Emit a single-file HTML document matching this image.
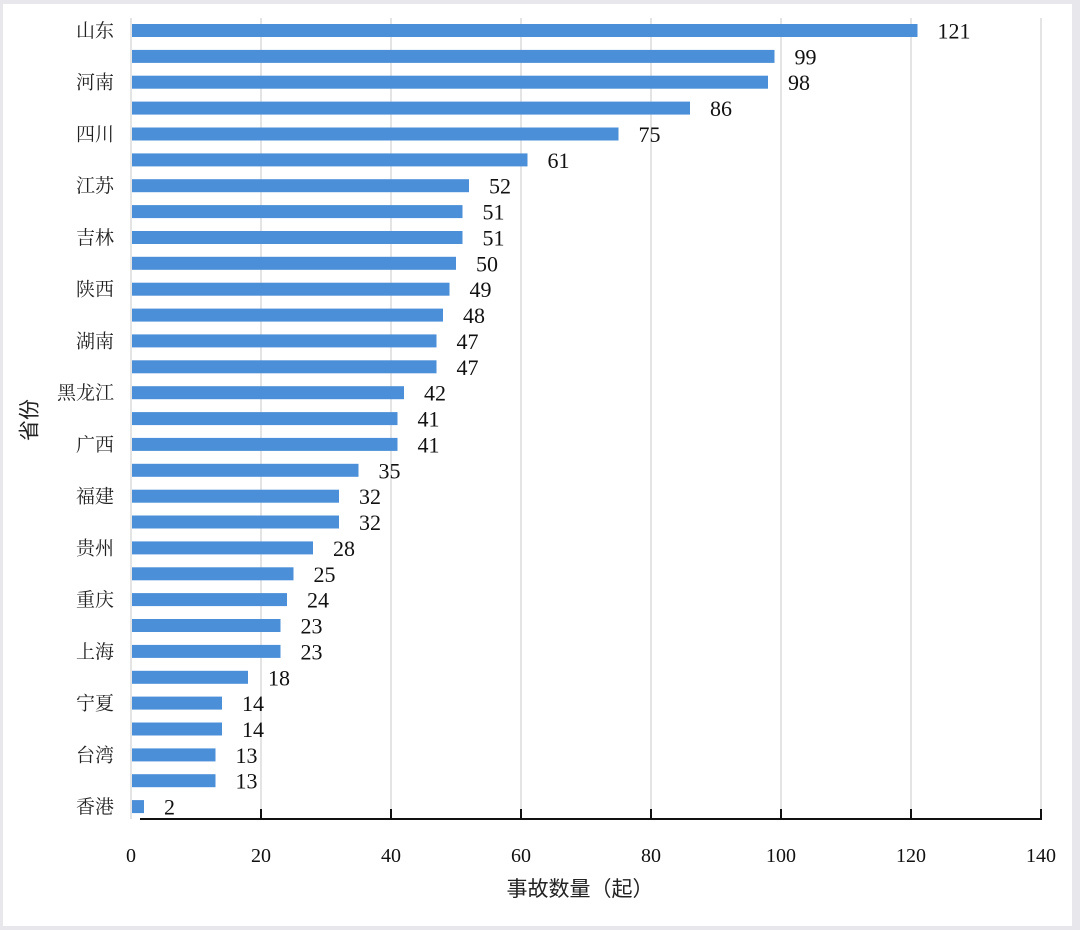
<!DOCTYPE html>
<html><head><meta charset="utf-8"><style>
html,body{margin:0;padding:0;background:#e8e8ec;}
svg{display:block}
</style></head><body>
<svg width="1080" height="930" xmlns="http://www.w3.org/2000/svg">
<rect x="0" y="0" width="1080" height="930" fill="#e8e8ec"/>
<rect x="3" y="4" width="1069" height="922" fill="#ffffff"/>
<g stroke="#dcdcdc" stroke-width="1.5">
<line x1="261" y1="18" x2="261" y2="819"/>
<line x1="391" y1="18" x2="391" y2="819"/>
<line x1="521" y1="18" x2="521" y2="819"/>
<line x1="651" y1="18" x2="651" y2="819"/>
<line x1="781" y1="18" x2="781" y2="819"/>
<line x1="911" y1="18" x2="911" y2="819"/>
<line x1="1041" y1="18" x2="1041" y2="819"/>
<line x1="131" y1="18" x2="131" y2="819"/>
</g>
<g stroke="#111" stroke-width="2">
<line x1="140" y1="819" x2="1042" y2="819"/>
<line x1="261" y1="809" x2="261" y2="819"/>
<line x1="391" y1="809" x2="391" y2="819"/>
<line x1="521" y1="809" x2="521" y2="819"/>
<line x1="651" y1="809" x2="651" y2="819"/>
<line x1="781" y1="809" x2="781" y2="819"/>
<line x1="911" y1="809" x2="911" y2="819"/>
<line x1="1041" y1="809" x2="1041" y2="819"/>
</g>
<g fill="#4b8fd9">
<rect x="132" y="24.0" width="785.5" height="13"/>
<rect x="132" y="49.9" width="642.5" height="13"/>
<rect x="132" y="75.7" width="636" height="13"/>
<rect x="132" y="101.6" width="558" height="13"/>
<rect x="132" y="127.5" width="486.5" height="13"/>
<rect x="132" y="153.4" width="395.5" height="13"/>
<rect x="132" y="179.2" width="337" height="13"/>
<rect x="132" y="205.1" width="330.5" height="13"/>
<rect x="132" y="231.0" width="330.5" height="13"/>
<rect x="132" y="256.8" width="324" height="13"/>
<rect x="132" y="282.7" width="317.5" height="13"/>
<rect x="132" y="308.6" width="311" height="13"/>
<rect x="132" y="334.4" width="304.5" height="13"/>
<rect x="132" y="360.3" width="304.5" height="13"/>
<rect x="132" y="386.2" width="272" height="13"/>
<rect x="132" y="412.1" width="265.5" height="13"/>
<rect x="132" y="437.9" width="265.5" height="13"/>
<rect x="132" y="463.8" width="226.5" height="13"/>
<rect x="132" y="489.7" width="207" height="13"/>
<rect x="132" y="515.5" width="207" height="13"/>
<rect x="132" y="541.4" width="181" height="13"/>
<rect x="132" y="567.3" width="161.5" height="13"/>
<rect x="132" y="593.1" width="155" height="13"/>
<rect x="132" y="619.0" width="148.5" height="13"/>
<rect x="132" y="644.9" width="148.5" height="13"/>
<rect x="132" y="670.8" width="116" height="13"/>
<rect x="132" y="696.6" width="90" height="13"/>
<rect x="132" y="722.5" width="90" height="13"/>
<rect x="132" y="748.4" width="83.5" height="13"/>
<rect x="132" y="774.2" width="83.5" height="13"/>
<rect x="132" y="800.1" width="12" height="13"/>
</g>
<g font-family="Liberation Serif, serif" font-size="22" fill="#111">
<text x="937.5" y="38.5">121</text>
<text x="794.5" y="64.4">99</text>
<text x="788" y="90.2">98</text>
<text x="710" y="116.1">86</text>
<text x="638.5" y="142.0">75</text>
<text x="547.5" y="167.9">61</text>
<text x="489" y="193.7">52</text>
<text x="482.5" y="219.6">51</text>
<text x="482.5" y="245.5">51</text>
<text x="476" y="271.3">50</text>
<text x="469.5" y="297.2">49</text>
<text x="463" y="323.1">48</text>
<text x="456.5" y="348.9">47</text>
<text x="456.5" y="374.8">47</text>
<text x="424" y="400.7">42</text>
<text x="417.5" y="426.6">41</text>
<text x="417.5" y="452.4">41</text>
<text x="378.5" y="478.3">35</text>
<text x="359" y="504.2">32</text>
<text x="359" y="530.0">32</text>
<text x="333" y="555.9">28</text>
<text x="313.5" y="581.8">25</text>
<text x="307" y="607.6">24</text>
<text x="300.5" y="633.5">23</text>
<text x="300.5" y="659.4">23</text>
<text x="268" y="685.3">18</text>
<text x="242" y="711.1">14</text>
<text x="242" y="737.0">14</text>
<text x="235.5" y="762.9">13</text>
<text x="235.5" y="788.7">13</text>
<text x="164" y="814.6">2</text>
</g>
<g font-family="Liberation Serif, Noto Serif CJK SC, serif" font-size="19" fill="#222" text-anchor="end">
<text x="114" y="37.0">山东</text>
<text x="114" y="88.7">河南</text>
<text x="114" y="140.5">四川</text>
<text x="114" y="192.2">江苏</text>
<text x="114" y="244.0">吉林</text>
<text x="114" y="295.7">陕西</text>
<text x="114" y="347.4">湖南</text>
<text x="114" y="399.2">黑龙江</text>
<text x="114" y="450.9">广西</text>
<text x="114" y="502.7">福建</text>
<text x="114" y="554.4">贵州</text>
<text x="114" y="606.1">重庆</text>
<text x="114" y="657.9">上海</text>
<text x="114" y="709.6">宁夏</text>
<text x="114" y="761.4">台湾</text>
<text x="114" y="813.1">香港</text>
</g>
<g font-family="Liberation Serif, serif" font-size="20" fill="#111" text-anchor="middle">
<text x="131" y="862">0</text><text x="261" y="862">20</text><text x="391" y="862">40</text><text x="521" y="862">60</text><text x="651" y="862">80</text><text x="781" y="862">100</text><text x="911" y="862">120</text><text x="1041" y="862">140</text>
</g>
<text x="580" y="896" font-family="Liberation Sans, Noto Sans CJK SC, sans-serif" font-size="21" fill="#222" text-anchor="middle">事故数量（起）</text>
<text transform="translate(30,420) rotate(-90)" font-family="Liberation Sans, Noto Sans CJK SC, sans-serif" font-size="21" fill="#222" text-anchor="middle" dominant-baseline="central">省份</text>
</svg>
</body></html>
